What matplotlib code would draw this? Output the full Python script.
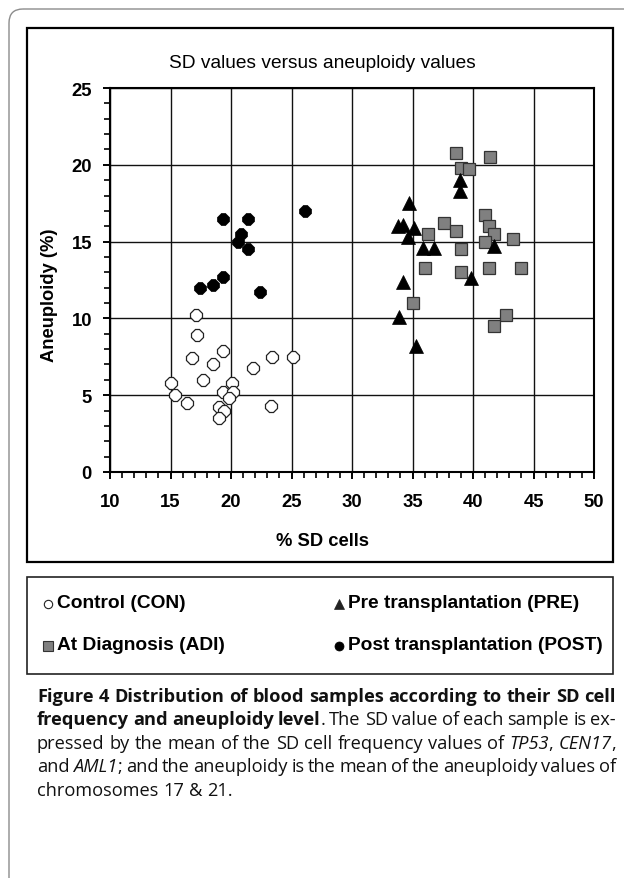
import matplotlib
matplotlib.use("Agg")
import matplotlib.pyplot as plt
from matplotlib.patches import FancyBboxPatch, Rectangle
from matplotlib.ticker import MultipleLocator

plt.rcParams['font.family'] = ['Liberation Sans', 'DejaVu Sans']

# ---------------- data ----------------
con_x = [17.1, 17.2, 19.3, 16.8, 23.4, 25.1, 18.5, 21.8, 17.7, 15.0, 20.1, 19.3, 20.2, 15.4, 19.8, 16.4, 23.3, 19.0, 19.4, 19.0]
con_y = [10.2, 8.9, 7.9, 7.4, 7.5, 7.5, 7.0, 6.8, 6.0, 5.8, 5.8, 5.2, 5.2, 5.0, 4.8, 4.5, 4.3, 4.2, 4.0, 3.5]

adi_x = [38.6, 41.4, 39.0, 39.7, 41.0, 37.6, 41.3, 38.6, 41.7, 36.3, 43.3, 41.0, 39.0, 36.0, 39.0, 41.3, 44.0, 35.0, 42.7, 41.7]
adi_y = [20.8, 20.5, 19.8, 19.7, 16.7, 16.2, 16.0, 15.7, 15.5, 15.5, 15.2, 15.0, 14.5, 13.3, 13.0, 13.3, 13.3, 11.0, 10.2, 9.5]

pre_x = [34.7, 33.8, 34.2, 35.1, 34.6, 35.9, 36.8, 41.7, 39.8, 34.2, 33.9, 35.3, 38.9, 38.9]
pre_y = [17.5, 16.0, 16.1, 15.9, 15.3, 14.6, 14.6, 14.7, 12.6, 12.4, 10.1, 8.2, 19.0, 18.3]

post_x = [19.3, 21.4, 26.1, 20.8, 20.6, 21.4, 19.3, 18.5, 17.4, 22.4]
post_y = [16.5, 16.5, 17.0, 15.5, 15.0, 14.5, 12.7, 12.2, 12.0, 11.7]

legend_labels = ["Control (CON)", "Pre transplantation (PRE)",
                 "At Diagnosis (ADI)", "Post transplantation (POST)"]

title = "SD values versus aneuploidy values"
xlabel = "% SD cells"
ylabel = "Aneuploidy (%)"

caption_lines = [
    [("Figure 4 Distribution of blood samples according to their SD cell", "b")],
    [("frequency and aneuploidy level", "b"), (". The SD value of each sample is ex-", "n")],
    [("pressed by the mean of the SD cell frequency values of ", "n"), ("TP53", "i"),
     (", ", "n"), ("CEN17", "i"), (",", "n")],
    [("and ", "n"), ("AML1", "i"), ("; and the aneuploidy is the mean of the aneuploidy values of", "n")],
    [("chromosomes 17 & 21.", "n")],
]

# ---------------- figure ----------------
W, H = 624, 879
fig = plt.figure(figsize=(W / 100, H / 100), dpi=100)

ov = fig.add_axes([0, 0, 1, 1], zorder=0)
ov.set_xlim(0, W)
ov.set_ylim(H, 0)
ov.axis('off')

# outer rounded page frame
ov.add_patch(FancyBboxPatch((9, 10), 700, 1000, boxstyle="round,pad=0,rounding_size=14",
                            ec='#8c8c8c', fc='none', lw=1.0))
# chart area box
ov.add_patch(Rectangle((27, 29), 586, 534, ec='black', fc='white', lw=1.6))
# legend box
ov.add_patch(Rectangle((27, 578), 586, 97, ec='#222222', fc='white', lw=1.2))

# titles centered on the chart area
ov.text(322, 63, title, ha='center', va='center', fontsize=13.8)
ov.text(323, 542, xlabel, ha='center', va='center', fontsize=13.2, fontweight='bold')
ov.text(50, 295, ylabel, ha='center', va='center', rotation=90, fontsize=13.2, fontweight='bold')

# ---------------- main axes ----------------
ax = fig.add_axes([110 / W, 1 - 473 / H, 484 / W, 384 / H], zorder=1)
ax.set_facecolor('white')
ax.set_xlim(10, 50)
ax.set_ylim(0, 25)
ax.xaxis.set_major_locator(MultipleLocator(5))
ax.yaxis.set_major_locator(MultipleLocator(5))
ax.xaxis.set_minor_locator(MultipleLocator(1))
ax.yaxis.set_minor_locator(MultipleLocator(1))
ax.grid(True, which='major', color='#111111', lw=1.0)
ax.set_axisbelow(True)
for s in ax.spines.values():
    s.set_linewidth(1.5)
    s.set_color('black')
ax.tick_params(which='major', direction='out', length=5, width=1.4, labelsize=13.3)
ax.tick_params(which='minor', direction='out', length=4, width=1.2)
ax.tick_params(axis='x', which='major', pad=10)
ax.tick_params(axis='y', which='major', pad=8)
for lab in ax.get_xticklabels() + ax.get_yticklabels():
    lab.set_fontweight('bold')

ax.plot(con_x, con_y, ls='none', marker='8', ms=9, mfc='white', mec='#222222', mew=0.9, zorder=3)
ax.plot(adi_x, adi_y, ls='none', marker='s', ms=8.3, mfc='#808080', mec='#333333', mew=0.9, zorder=3)
ax.plot(pre_x, pre_y, ls='none', marker='^', ms=10, mfc='black', mec='black', mew=0.5, zorder=4)
ax.plot(post_x, post_y, ls='none', marker='8', ms=9, mfc='black', mec='black', mew=0.5, zorder=5)

# ---------------- legend ----------------
leg_pos = [(48, 604), (339, 604), (48, 646), (339, 646)]
leg_style = [
    dict(marker='o', ms=6, mfc='white', mec='#222222', mew=0.8),
    dict(marker='^', ms=7.5, mfc='#222222', mec='#222222', mew=0.5),
    dict(marker='s', ms=6.5, mfc='#808080', mec='#333333', mew=0.8),
    dict(marker='o', ms=6.5, mfc='black', mec='black', mew=0.5),
]
for (lx, ly), lab, st in zip(leg_pos, legend_labels, leg_style):
    ov.plot([lx], [ly + 1], ls='none', **st)
    ov.text(lx + 9, ly, lab, ha='left', va='center', fontsize=13.8, fontweight='bold')

# ---------------- caption (justified) ----------------
renderer = fig.canvas.get_renderer()
cap_font = 'Open Sans'
cap_size = 12.0


def style_kw(st):
    if st == 'b':
        return dict(fontweight='bold')
    if st == 'i':
        return dict(fontstyle='italic')
    return dict()


def measure(t, st):
    tx = ov.text(0, 0, t, fontsize=cap_size, family=cap_font, **style_kw(st))
    w = tx.get_window_extent(renderer).width
    tx.remove()
    return w


def tokenize(segs):
    words = [[]]
    for text, st in segs:
        parts = text.split(' ')
        for i, p in enumerate(parts):
            if i > 0:
                words.append([])
            if p:
                words[-1].append((p, st))
    return [w for w in words if w]


x0, x1 = 37, 616
# size the caption so the first (bold) line naturally fills the column
first_w = sum(measure(t, st) for t, st in caption_lines[0])
cap_size = cap_size * (x1 - x0 - 2) / first_w

space_w = measure("x x", 'n') - measure("xx", 'n')
baselines = [702, 725.5, 749, 772.5, 796]
for li, (segs, yb) in enumerate(zip(caption_lines, baselines)):
    words = tokenize(segs)
    widths = [[measure(t, st) for t, st in w] for w in words]
    total = sum(sum(w) for w in widths)
    justify = li < len(caption_lines) - 1
    gap = (x1 - x0 - total) / (len(words) - 1) if justify and len(words) > 1 else space_w
    x = x0
    for w, ws in zip(words, widths):
        for (t, st), wd in zip(w, ws):
            ov.text(x, yb, t, ha='left', va='baseline', fontsize=cap_size, family=cap_font,
                    color='#111111', **style_kw(st))
            x += wd
        x += gap

fig.savefig("out.png", dpi=100)
